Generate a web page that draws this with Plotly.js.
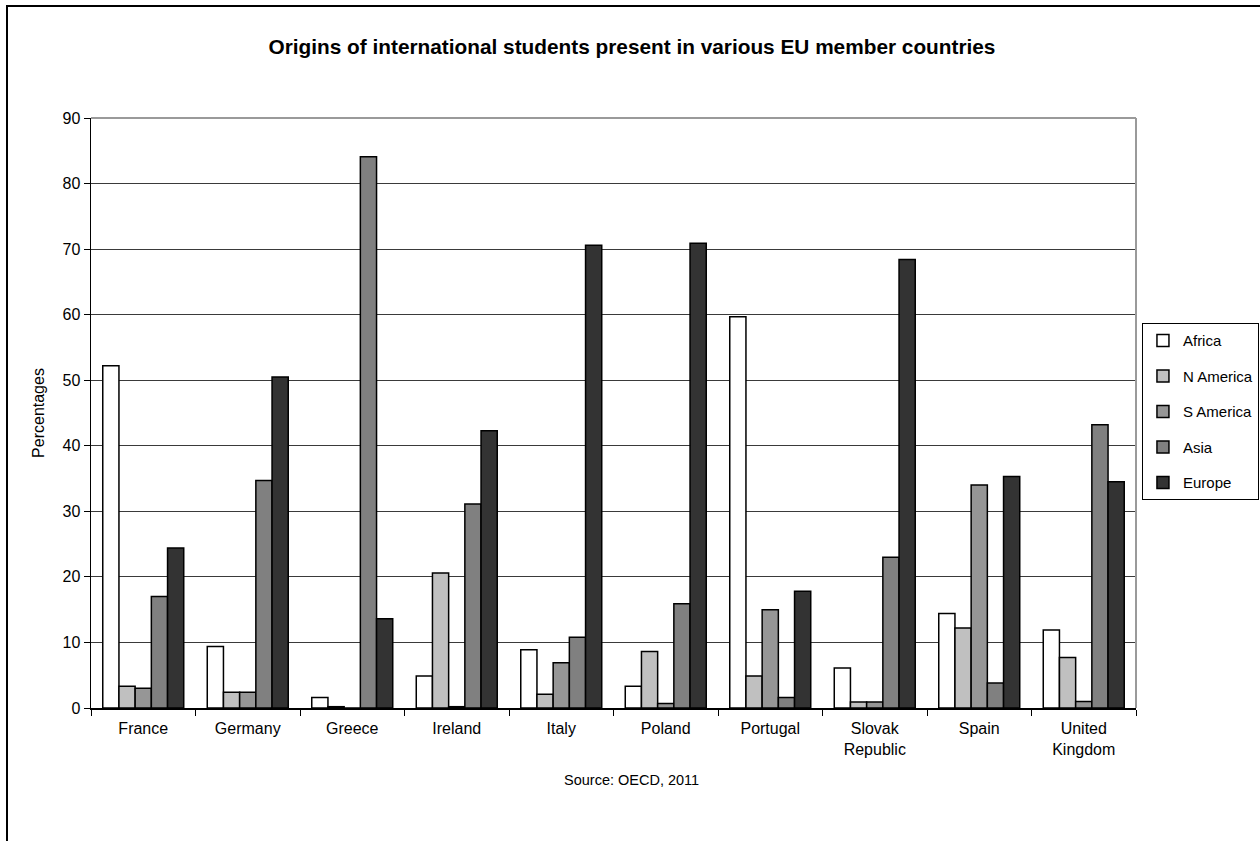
<!DOCTYPE html>
<html>
<head>
<meta charset="utf-8">
<script src="https://cdn.plot.ly/plotly-3.0.1.min.js"></script>
<style>
  html, body { margin: 0; padding: 0; background: #fff; }
  #chart { width: 1260px; height: 841px; }
  #frame { position: absolute; left: 6px; top: 5px; width: 2000px; height: 2000px;
           border-top: 2px solid #000; border-left: 2px solid #000; pointer-events: none; }
</style>
</head>
<body>
<div id="chart"></div>
<div id="frame"></div>
<script>
const countries = ["France", "Germany", "Greece", "Ireland", "Italy", "Poland", "Portugal", "Slovak<br>Republic", "Spain", "United<br>Kingdom"];
const seriesNames = ["Africa", "N America", "S America", "Asia", "Europe"];
const africa    = [52.2, 9.4, 1.6, 4.9, 8.9, 3.3, 59.7, 6.1, 14.4, 11.9];
const nAmerica  = [3.3, 2.4, 0.2, 20.6, 2.1, 8.6, 4.9, 0.9, 12.2, 7.7];
const sAmerica  = [3.0, 2.4, 0.0, 0.2, 6.9, 0.7, 15.0, 0.9, 34.0, 1.0];
const asia      = [17.0, 34.7, 84.1, 31.1, 10.8, 15.9, 1.6, 23.0, 3.8, 43.2];
const europe    = [24.4, 50.5, 13.6, 42.3, 70.6, 70.9, 17.8, 68.4, 35.3, 34.5];
const colors    = ["#FFFFFF", "#C0C0C0", "#969696", "#808080", "#333333"];

const values = [africa, nAmerica, sAmerica, asia, europe];
const FONT = "Liberation Sans, Arial, sans-serif";

const traces = values.map((v, i) => ({
  type: "bar",
  name: seriesNames[i],
  x: countries,
  y: v,
  legendgroup: "g" + i,
  marker: { color: colors[i], line: { color: "#000", width: 1.5 } },
  hoverinfo: "x+y+name"
}));

const layout = {
  width: 1260, height: 841,
  margin: { l: 91, r: 124, t: 118, b: 133, autoexpand: false },
  paper_bgcolor: "#fff",
  plot_bgcolor: "#fff",
  font: { family: FONT, color: "#000", size: 16 },
  title: {
    text: "<b>Origins of international students present in various EU member countries</b>",
    font: { family: FONT, size: 20.8, color: "#000" },
    x: 0.5177, xanchor: "center", xref: "paper", y: 0.945, yref: "container", yanchor: "middle"
  },
  barmode: "group",
  bargap: 0.225,
  bargroupgap: 0,
  xaxis: {
    type: "category",
    showline: true, linecolor: "#000", linewidth: 1.5,
    showgrid: false,
    ticks: "outside", ticklen: 6, tickcolor: "#000", tickwidth: 1,
    tickson: "boundaries",
    ticklabelstandoff: 5,
    tickfont: { family: FONT, size: 16, color: "#000" }
  },
  yaxis: {
    range: [0, 90], dtick: 10,
    showline: true, linecolor: "#000", linewidth: 1.5,
    showgrid: true, gridcolor: "#3a3a3a", gridwidth: 1,
    zeroline: false,
    ticks: "outside", ticklen: 6, tickcolor: "#000", tickwidth: 1,
    tickfont: { family: FONT, size: 16, color: "#000" },
    title: { text: "Percentages", font: { family: FONT, size: 16, color: "#000" }, standoff: 14 }
  },
  legend: {
    x: 1.0057, xanchor: "left", y: 0.652, yanchor: "top",
    bordercolor: "#000", borderwidth: 1, bgcolor: "#fff",
    font: { family: FONT, size: 15, color: "#000" },
    traceorder: "grouped", tracegroupgap: 13,
    itemclick: false
  },
  shapes: [
    { type: "line", xref: "paper", yref: "paper", x0: 0, x1: 1, y0: 1, y1: 1, line: { color: "#9a9a9a", width: 2 } },
    { type: "line", xref: "paper", yref: "paper", x0: 1, x1: 1, y0: 0, y1: 1, line: { color: "#9a9a9a", width: 2 } }
  ],
  annotations: [
    { text: "Source: OECD, 2011", xref: "paper", yref: "paper", x: 0.5177, xanchor: "center", y: -0.122, yanchor: "middle",
      showarrow: false, font: { family: FONT, size: 14.5, color: "#000" } }
  ]
};

Plotly.newPlot("chart", traces, layout, { displayModeBar: false, staticPlot: true });
</script>
</body>
</html>
